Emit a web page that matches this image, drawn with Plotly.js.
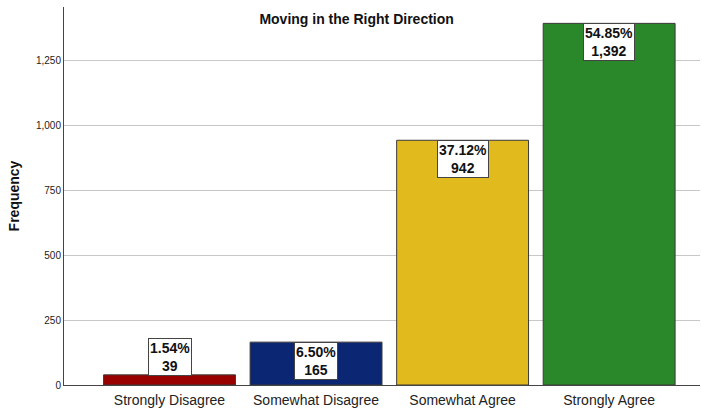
<!DOCTYPE html>
<html><head><meta charset="utf-8">
<script src="https://cdn.plot.ly/plotly-3.0.1.min.js"></script>
<style>html,body{margin:0;padding:0;background:#fff}#c{width:702px;height:412px}</style>
</head><body><div id="c"></div>
<script>
const categories = ["Strongly Disagree", "Somewhat Disagree", "Somewhat Agree", "Strongly Agree"];
const counts = [39, 165, 942, 1392];
const percents = ["1.54%", "6.50%", "37.12%", "54.85%"];
const countLabels = ["39", "165", "942", "1,392"];
const barColors = ["#990000", "#0b2673", "#e1ba1e", "#2a872a"];
const yTicks = [0, 250, 500, 750, 1000, 1250];

const trace = {
  type: "bar", x: categories, y: counts, width: 0.9,
  marker: {color: barColors, line: {color: "#3a3a3a", width: 1}},
  hoverinfo: "none"
};
const annotations = categories.map((c, i) => {
  const outside = counts[i] < 100;
  return {
    x: c, y: counts[i], xref: "x", yref: "y",
    text: "<b>" + percents[i] + "<br>" + countLabels[i] + "</b>",
    showarrow: false, yanchor: outside ? "bottom" : "top",
    yshift: outside ? -1 : 0,
    bgcolor: "#ffffff", bordercolor: "#444", borderwidth: 1, borderpad: 1,
    font: {family: "Liberation Sans, Arial", size: 14, color: "#111"}
  };
});
const layout = {
  width: 702, height: 412,
  margin: {l: 64, r: 2, t: 7, b: 27},
  paper_bgcolor: "#fff", plot_bgcolor: "#fff",
  separators: ".,",
  showlegend: false,
  title: {text: "<b>Moving in the Right Direction</b>", xref: "container", x: 0.508, xanchor: "center",
          yref: "container", y: 0.953, yanchor: "middle",
          font: {family: "Liberation Sans, Arial", size: 14, color: "#111"}},
  xaxis: {range: [-0.72, 3.62], showgrid: false, showline: true, linecolor: "#444", linewidth: 1,
          ticks: "", ticklabelstandoff: 2, tickfont: {family: "Liberation Sans, Arial", size: 14, color: "#222"}, fixedrange: true},
  yaxis: {range: [0, 1455], tickvals: yTicks, tickformat: ",d", showgrid: true, gridcolor: "#c8c8c8", gridwidth: 1,
          showline: true, linecolor: "#444", linewidth: 1, zeroline: false, ticks: "",
          tickfont: {family: "Liberation Sans, Arial", size: 10, color: "#222"},
          title: {text: "<b>Frequency</b>", standoff: 13, font: {family: "Liberation Sans, Arial", size: 14, color: "#111"}}},
  annotations: annotations
};
Plotly.newPlot("c", [trace], layout, {displayModeBar: false, staticPlot: true});
</script></body></html>
